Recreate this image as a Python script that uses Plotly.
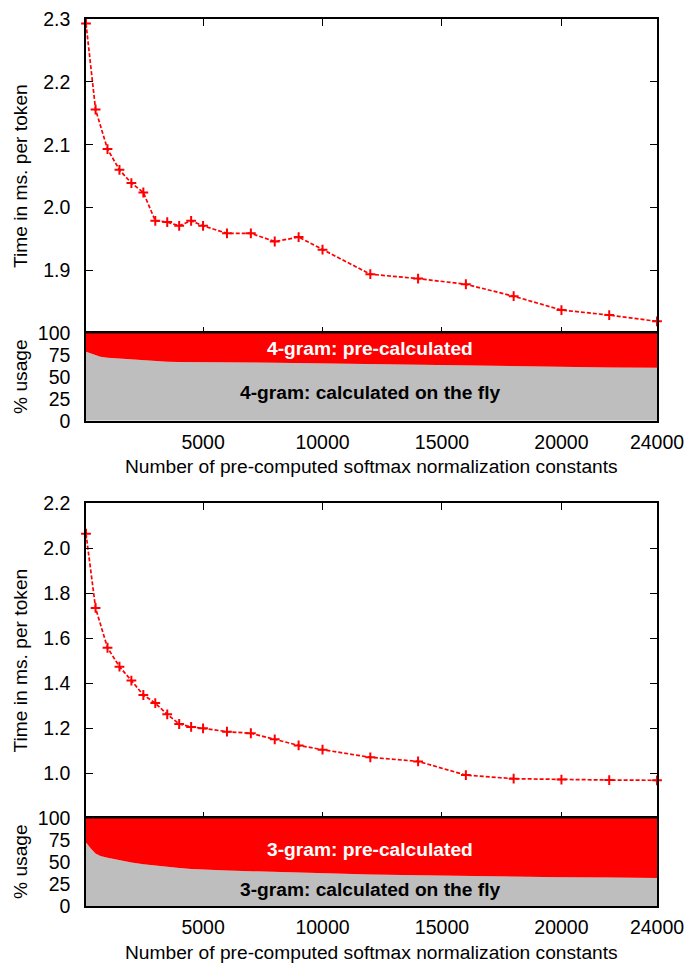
import plotly.graph_objects as go

# ---------------- data ----------------
x_vals = [100, 500, 1000, 1500, 2000, 2500, 3000, 3500, 4000, 4500, 5000, 6000, 7000,
          8000, 9000, 10000, 12000, 14000, 16000, 18000, 20000, 22000, 24000]
time_4gram = [2.293, 2.156, 2.093, 2.060, 2.039, 2.024, 1.979, 1.977, 1.971, 1.979, 1.971,
              1.959, 1.959, 1.946, 1.953, 1.933, 1.894, 1.887, 1.878, 1.859, 1.837, 1.829, 1.819]
time_3gram = [2.065, 1.735, 1.558, 1.474, 1.412, 1.348, 1.312, 1.262, 1.219, 1.206, 1.200,
              1.185, 1.178, 1.151, 1.124, 1.105, 1.071, 1.053, 0.992, 0.976, 0.972, 0.970, 0.969]

usage_x = [100, 300, 500, 700, 1000, 1500, 2000, 2500, 3000, 3500, 4000, 4500, 5000, 6000,
           7000, 8000, 9000, 10000, 12000, 14000, 16000, 18000, 20000, 22000, 24000]
fly_4gram = [79, 77, 75, 73.2, 72, 71, 70.2, 69, 68, 67.4, 67.1, 66.9, 66.8, 66.6,
             66.5, 66.4, 66.0, 65.5, 64.5, 63.8, 63.0, 62.2, 61.5, 61.0, 60.6]
fly_3gram = [72.5, 65.5, 60, 57, 55, 52, 49.7, 47.5, 45.8, 44.4, 43.2, 42.2, 41.4, 40.4,
             39.6, 38.8, 38.0, 37.4, 36.0, 35.0, 34.0, 33.3, 32.8, 32.4, 32.0]

x_ticks = [5000, 10000, 15000, 20000, 24000]
x_tick_labels = ["5000", "10000", "15000", "20000", "24000"]
y_ticks_top = [1.9, 2.0, 2.1, 2.2, 2.3]
y_ticks_bottom = [1.0, 1.2, 1.4, 1.6, 1.8, 2.0, 2.2]
usage_ticks = [0, 25, 50, 75, 100]

x_title = "Number of pre-computed softmax normalization constants"
y_title = "Time in ms. per token"
usage_title = "% usage"

# ---------------- style ----------------
FONT = "Liberation Sans, Arial, Helvetica, sans-serif"
FS = 19.5
FT = 19.2
RED = "#ff0000"
GREY = "#bebebe"

W, H = 687, 963
ML, MR, MT, MB = 86, 30, 19, 57
ph = H - MT - MB


def py(pix):
    return (H - MB - pix) / ph


fig = go.Figure()


def line_trace(y, xa, ya):
    return go.Scatter(
        x=x_vals, y=y, xaxis=xa, yaxis=ya, mode="lines+markers",
        line=dict(color=RED, width=1.7, dash="4px,2px"),
        marker=dict(symbol="cross-thin", size=7, line=dict(color=RED, width=2)),
        cliponaxis=False, showlegend=False,
    )


def area_traces(fly, xa, ya, group):
    pre = [100 - v for v in fly]
    return [
        go.Scatter(x=usage_x, y=fly, xaxis=xa, yaxis=ya, mode="lines",
                   stackgroup=group, line=dict(width=0, color=GREY),
                   fillcolor=GREY, showlegend=False),
        go.Scatter(x=usage_x, y=pre, xaxis=xa, yaxis=ya, mode="lines",
                   stackgroup=group, line=dict(width=0, color=RED),
                   fillcolor=RED, showlegend=False),
    ]


fig.add_trace(line_trace(time_4gram, "x", "y"))
for t in area_traces(fly_4gram, "x2", "y2", "a"):
    fig.add_trace(t)
fig.add_trace(line_trace(time_3gram, "x3", "y3"))
for t in area_traces(fly_3gram, "x4", "y4", "b"):
    fig.add_trace(t)

d_top_line = [py(333.3), 1.0]
d_top_area = [py(420.7), py(333.3)]
d_bot_line = [py(818.3), py(503.3)]
d_bot_area = [0.0, py(818.3)]

axis_common = dict(showline=True, linecolor="black", linewidth=1.5, mirror=True,
                   showgrid=False, zeroline=False, automargin=False,
                   tickfont=dict(family=FONT, size=FS, color="black"))

xline = dict(axis_common, range=[100, 24000], tickvals=x_ticks, ticktext=x_tick_labels,
             ticks="inside", ticklen=7, tickcolor="black", tickwidth=1,
             showticklabels=False, mirror="ticks")
xarea = dict(axis_common, range=[100, 24000], tickvals=x_ticks, ticktext=x_tick_labels,
             ticks="", showticklabels=True, ticklabelstandoff=3)

fig.update_layout(
    width=W, height=H,
    margin=dict(l=ML, r=MR, t=MT, b=MB, autoexpand=False),
    paper_bgcolor="white", plot_bgcolor="white",
    font=dict(family=FONT, size=FS, color="black"),
    xaxis=dict(xline, anchor="y"),
    yaxis=dict(axis_common, domain=d_top_line, range=[1.8, 2.3], tickvals=y_ticks_top,
               tickformat=".1f", ticks="inside", ticklen=7, tickcolor="black",
               tickwidth=1, mirror="ticks", ticklabelstandoff=10, anchor="x"),
    xaxis2=dict(xarea, anchor="y2"),
    yaxis2=dict(axis_common, domain=d_top_area, range=[0, 100], tickvals=usage_ticks,
                ticks="", ticklabelstandoff=10, anchor="x2"),
    xaxis3=dict(xline, anchor="y3"),
    yaxis3=dict(axis_common, domain=d_bot_line, range=[0.8, 2.2], tickvals=y_ticks_bottom,
                tickformat=".1f", ticks="inside", ticklen=7, tickcolor="black",
                tickwidth=1, mirror="ticks", ticklabelstandoff=10, anchor="x3"),
    xaxis4=dict(xarea, anchor="y4"),
    yaxis4=dict(axis_common, domain=d_bot_area, range=[0, 100], tickvals=usage_ticks,
                ticks="", ticklabelstandoff=10, anchor="x4"),
)

ann = []
# in-area labels
ann.append(dict(x=12000, y=82.5, xref="x2", yref="y2", text="<b>4-gram: pre-calculated</b>",
                showarrow=False, font=dict(family=FONT, size=FT, color="white")))
ann.append(dict(x=12000, y=32, xref="x2", yref="y2", text="<b>4-gram: calculated on the fly</b>",
                showarrow=False, font=dict(family=FONT, size=FT, color="black")))
ann.append(dict(x=12000, y=64.5, xref="x4", yref="y4", text="<b>3-gram: pre-calculated</b>",
                showarrow=False, font=dict(family=FONT, size=FT, color="white")))
ann.append(dict(x=12000, y=19, xref="x4", yref="y4", text="<b>3-gram: calculated on the fly</b>",
                showarrow=False, font=dict(family=FONT, size=FT, color="black")))

# axis titles
xt = (20 - ML) / (W - ML - MR)
for yc, txt in [(176, y_title), (377, usage_title), (660.5, y_title), (862, usage_title)]:
    ann.append(dict(x=xt, y=py(yc), xref="paper", yref="paper", text=txt, textangle=-90,
                    showarrow=False, xanchor="center", yanchor="middle",
                    font=dict(family=FONT, size=FT, color="black")))
for yc in [466, 952]:
    ann.append(dict(x=0.5, y=py(yc), xref="paper", yref="paper", text=x_title,
                    showarrow=False, xanchor="center", yanchor="middle",
                    font=dict(family=FONT, size=FT, color="black")))

fig.update_layout(annotations=ann)

fig.write_html("out.html")
